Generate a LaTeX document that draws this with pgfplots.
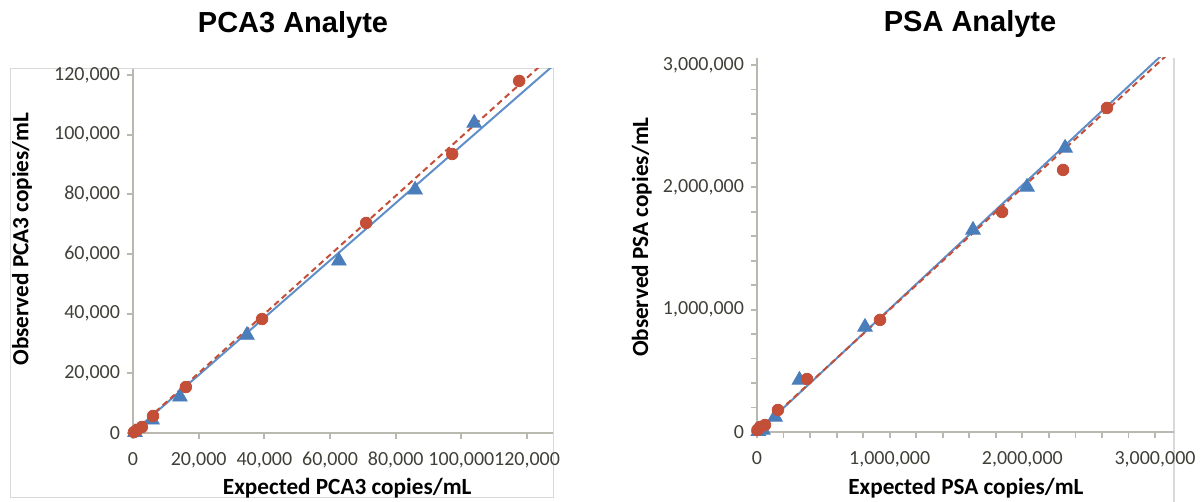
\documentclass[border=0pt]{standalone}
\usepackage{pgfplots}
\pgfplotsset{compat=1.18}
\usepackage{fontspec}
\setmainfont{Carlito}
\newfontfamily\titlefont{Liberation Sans}
\definecolor{bluem}{RGB}{74,126,187}
\definecolor{bluel}{RGB}{95,142,200}
\definecolor{redm}{RGB}{196,79,57}
\definecolor{axisgray}{RGB}{185,185,175}
\definecolor{ticktext}{RGB}{64,64,56}
\definecolor{framegray}{RGB}{217,217,217}
\pgfplotsset{
 myaxis/.style={
  scale only axis, clip=true,
  axis x line*=bottom, axis y line*=left,
  axis line style={draw=axisgray, line width=0.9pt, -},
  tick style={draw=axisgray, line width=0.9pt},
  tick align=outside,
  major tick length=3pt, minor tick length=3pt,
  ticklabel style={font=\fontsize{10}{12}\selectfont, text=ticktext},
  xticklabel style={yshift=-3pt},
  /pgf/number format/fixed,
  /pgf/number format/1000 sep={,},
  /pgf/number format/assume math mode=true,
  scaled ticks=false,
  every axis title shift=0pt,
  label style={font=\bfseries\fontsize{11.6}{13}\selectfont, text=black},
  title style={font=\titlefont\bfseries\fontsize{14.5}{17}\selectfont, anchor=base},
 },
 bluepts/.style={only marks, mark=triangle*, mark size=4.2pt, color=bluem, mark options={draw=bluem, fill=bluem}},
 redpts/.style={only marks, mark=*, mark size=2.9pt, color=redm, mark options={draw=redm, fill=redm}},
 blueline/.style={no marks, color=bluel, line width=1pt},
 redline/.style={no marks, color=redm, line width=1pt, dash pattern=on 3pt off 2pt},
}
\begin{document}
\begin{tikzpicture}[x=0.5pt,y=0.5pt]
\path[use as bounding box] (0,0) rectangle (1201,502);
\draw[framegray, line width=0.5pt] (10,4) rectangle (553,433);
\draw[framegray, line width=0.8pt] (1174,0) -- (1174,444);

\begin{axis}[myaxis, at={(66.5pt,34.5pt)}, anchor=south west,
  width=210pt, height=182pt,
  xmin=0, xmax=127900, ymin=0, ymax=122000,
  xtick={0,20000,40000,60000,80000,100000,120000},
  ytick={0,20000,40000,60000,80000,100000,120000},
  xlabel={Expected PCA3 copies/mL},
  ylabel={Observed PCA3 copies/mL},
  xlabel style={at={(axis description cs:0.51,-0.151)}, anchor=center},
  ylabel style={at={(axis description cs:-0.264,0.533)}, anchor=center},
  title={PCA3 Analyte},
  title style={at={(axis description cs:0.381,1.1016)}},
]
\addplot[bluepts] coordinates {
 (600,200) (5800,4400) (14300,12100) (34700,32800) (62700,57700) (85900,81500) (103900,103900)
};
\addplot[redpts] coordinates {
 (300,300) (1200,1000) (2700,2000) (6100,5700) (16100,15400) (39300,38200) (71000,70400) (97200,93500) (117600,118000)
};
\addplot[blueline] coordinates {(0,200) (127900,123100)};
\addplot[redline] coordinates {(0,300) (127900,126900)};
\end{axis}

\begin{axis}[myaxis, at={(378.5pt,35pt)}, anchor=south west,
  width=208.5pt, height=187pt,
  xmin=0, xmax=3143000, ymin=0, ymax=3057000,
  xtick={0,1000000,2000000,3000000},
  ytick={0,1000000,2000000,3000000},
  minor x tick num=4, minor y tick num=4,
  xlabel={Expected PSA copies/mL},
  ylabel={Observed PSA copies/mL},
  xlabel style={at={(axis description cs:0.501,-0.150)}, anchor=center},
  ylabel style={at={(axis description cs:-0.276,0.521)}, anchor=center},
  title={PSA Analyte},
  title style={at={(axis description cs:0.511,1.0695)}},
]
\addplot[bluepts] coordinates {
 (10000,5000) (45000,16000) (136000,123000) (320000,425000) (814000,858000) (1628000,1651000) (2035000,2003000) (2322000,2322000)
};
\addplot[redpts] coordinates {
 (3000,16000) (23000,41000) (60000,57000) (158000,180000) (377000,433000) (927000,916000) (1847000,1798000) (2307000,2142000) (2638000,2649000)
};
\addplot[blueline] coordinates {(0,-5000) (3143000,3173000)};
\addplot[redline] coordinates {(0,5000) (3143000,3135000)};
\end{axis}
\end{tikzpicture}
\end{document}
